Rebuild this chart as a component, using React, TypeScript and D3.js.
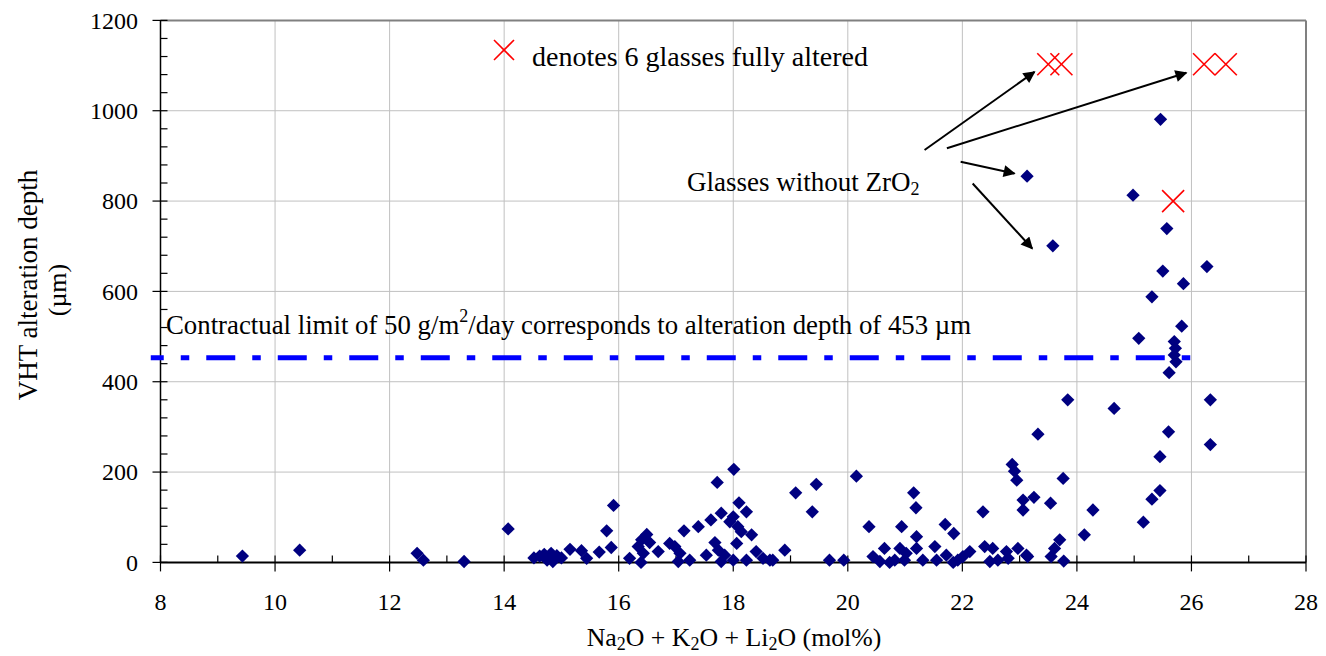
import React from "react";
import * as d3 from "d3";

// ---- data ----
const alkaliMol: number[] = [
  9.43, 10.43, 12.48, 12.59, 13.30, 14.07,
  14.52, 14.62, 14.70, 14.75, 14.82, 14.85, 14.92, 15.0,
  15.15, 15.35, 15.44, 15.66, 15.79, 15.87, 15.91,
  16.19, 16.39, 16.34, 16.40, 16.49, 16.54, 16.43, 16.69, 16.89, 16.98, 17.07, 17.04, 17.24, 17.14,
  17.39, 17.53, 17.61, 17.68, 17.72, 17.79, 17.74, 17.79, 17.85, 17.94, 18.0, 18.08, 18.01, 18.10,
  18.06, 18.23, 18.14, 18.32, 18.0, 18.23, 18.40, 18.52, 18.64, 18.69, 18.90,
  19.09, 19.38, 19.45, 19.68, 19.93, 20.15, 20.37, 20.44, 20.56, 20.64, 20.73, 20.82, 20.91, 20.94,
  20.99, 21.02, 21.15, 21.19, 21.20, 21.20, 21.31, 21.52, 21.55,
  21.70, 21.85, 21.72, 21.84, 21.92, 22.01, 22.13, 22.36, 22.39, 22.48, 22.53, 22.62, 22.77, 22.80,
  22.97, 23.12, 23.14, 22.87, 22.91, 22.95, 23.06, 23.06, 23.25, 23.32, 23.54, 23.55, 23.61, 23.70,
  23.76, 23.84, 23.77, 24.13, 24.28, 24.65, 25.16, 25.31, 25.45, 25.45, 25.60, 26.33, 26.33,
  23.13, 23.58, 25.46, 24.98, 25.57, 25.50, 26.27, 25.86, 25.31, 25.83, 25.08, 25.70, 25.72, 25.70,
  25.73, 25.61,
];
const depthUm: number[] = [
  14, 27, 20, 5, 2, 74,
  10, 14, 18, 5, 20, 2, 15, 10,
  29, 26, 9, 23, 70, 33, 126,
  9, 0, 35, 50, 62, 44, 20, 24, 42, 35, 20, 2, 5, 70,
  79, 16, 94, 44, 177, 109, 27, 2, 16, 90, 101, 79, 206, 132,
  42, 112, 68, 61, 5, 5, 24, 9, 5, 5, 27,
  154, 112, 173, 5, 5, 191, 79, 13, 2, 31, 0, 5, 31, 79,
  5, 20, 154, 121, 57, 31, 5, 35, 5,
  84, 64, 16, 0, 5, 13, 24, 112, 35, 2, 31, 5, 24, 9,
  31, 16, 13, 217, 202, 182, 138, 116, 144, 284, 131, 13, 31, 50,
  186, 360, 3, 61, 116, 341, 89, 140, 159, 234, 289, 360, 261,
  855, 701, 981, 813, 739, 645, 655, 617, 588, 523, 496, 489, 474, 459,
  444, 420,
];
const alteredX: number[] = [23.5, 23.73, 26.22, 26.6, 25.68];
const alteredY: number[] = [1103, 1103, 1103, 1103, 800];

const xTicks: number[] = [8, 10, 12, 14, 16, 18, 20, 22, 24, 26, 28];
const yTicks: number[] = [0, 200, 400, 600, 800, 1000, 1200];
const contractualLimit = 453;

// arrows (data coordinates): [x1, y1, x2, y2]
const arrows: number[][] = [
  [21.34, 913, 23.26, 1086],
  [21.73, 917, 25.91, 1084],
  [21.97, 887, 22.91, 861],
  [22.18, 839, 23.22, 695],
];

const W = 1326;
const H = 656;
const FONT = "'Liberation Serif', 'Times New Roman', serif";

export default function App() {
  const x = d3.scaleLinear().domain([8, 28]).range([160.5, 1306]);
  const y = d3.scaleLinear().domain([0, 1200]).range([562.4, 20.4]);
  const x0 = x(8);
  const y0 = y(0);

  const diamond = d3.symbol(d3.symbolSquare).size(88)() as string;

  const minorY = d3.range(0, 1201, 40).filter((v) => v % 200 !== 0);
  const minorX = d3.range(9, 28, 2);

  const xs = 11;

  return (
    <svg
      width={W}
      height={H}
      style={{ position: "absolute", left: 0, top: 0, background: "#fff" }}
      fontFamily={FONT}
    >
      <defs>
        <marker
          id="ah"
          viewBox="0 0 10 10"
          refX="9"
          refY="5"
          markerWidth="7"
          markerHeight="6"
          markerUnits="strokeWidth"
          orient="auto"
        >
          <path d="M0,0 L10,5 L0,10 z" fill="#000" />
        </marker>
      </defs>
      <rect x={0} y={0} width={W} height={H} fill="#fff" />

      {/* grid */}
      {xTicks.slice(1, -1).map((t) => (
        <line key={"gx" + t} x1={x(t)} x2={x(t)} y1={y(0)} y2={y(1200)} stroke="#c0c0c0" strokeWidth={1} />
      ))}
      {yTicks.slice(1, -1).map((t) => (
        <line key={"gy" + t} x1={x0} x2={x(28)} y1={y(t)} y2={y(t)} stroke="#c0c0c0" strokeWidth={1} />
      ))}
      {/* plot border top/right */}
      <line x1={x0} x2={x(28)} y1={y(1200)} y2={y(1200)} stroke="#808080" strokeWidth={2} />
      <line x1={x(28)} x2={x(28)} y1={y(1200)} y2={y(0)} stroke="#808080" strokeWidth={2} />

      {/* axes */}
      <line x1={x0} x2={x0} y1={y(1200)} y2={y0} stroke="#000" strokeWidth={1.5} />
      <line x1={x0} x2={x(28)} y1={y0} y2={y0} stroke="#000" strokeWidth={2} />
      {yTicks.map((t) => (
        <line key={"ty" + t} x1={x0 - 8} x2={x0 + 7} y1={y(t)} y2={y(t)} stroke="#000" strokeWidth={1.2} />
      ))}
      {minorY.map((t) => (
        <line key={"my" + t} x1={x0} x2={x0 + 7} y1={y(t)} y2={y(t)} stroke="#000" strokeWidth={1.2} />
      ))}
      {xTicks.map((t) => (
        <line key={"tx" + t} x1={x(t)} x2={x(t)} y1={y0 - 7} y2={y0 + 9} stroke="#000" strokeWidth={1.2} />
      ))}
      {minorX.map((t) => (
        <line key={"mx" + t} x1={x(t)} x2={x(t)} y1={y0 - 7} y2={y0} stroke="#000" strokeWidth={1.2} />
      ))}

      {/* tick labels */}
      {yTicks.map((t) => (
        <text key={"ly" + t} x={138} y={y(t)} dy="0.35em" textAnchor="end" fontSize={24} fill="#000">
          {t}
        </text>
      ))}
      {xTicks.map((t) => (
        <text key={"lx" + t} x={x(t)} y={610} textAnchor="middle" fontSize={24} fill="#000">
          {t}
        </text>
      ))}

      {/* axis titles */}
      <text transform="translate(37,285) rotate(-90)" textAnchor="middle" fontSize={27} fill="#000">
        VHT alteration depth
      </text>
      <text transform="translate(66,290) rotate(-90)" textAnchor="middle" fontSize={26} fill="#000">
        (µm)
      </text>
      <text x={734} y={646} textAnchor="middle" fontSize={25.8} fill="#000">
        Na<tspan fontSize={18} dy={4}>2</tspan>
        <tspan dy={-4}>O + K</tspan>
        <tspan fontSize={18} dy={4}>2</tspan>
        <tspan dy={-4}>O + Li</tspan>
        <tspan fontSize={18} dy={4}>2</tspan>
        <tspan dy={-4}>O (mol%)</tspan>
      </text>

      {/* contractual limit line */}
      <line
        x1={x(7.83)}
        x2={x(26.13)}
        y1={y(contractualLimit)}
        y2={y(contractualLimit)}
        stroke="#0000ff"
        strokeWidth={5}
        strokeDasharray="29 17 8.5 17"
        strokeDashoffset={16}
      />
      <text x={166} y={334} fontSize={26.8} fill="#000">
        Contractual limit of 50 g/m<tspan fontSize={18} dy={-12}>2</tspan>
        <tspan dy={12}>/day corresponds to alteration depth of 453 µm</tspan>
      </text>

      {/* data diamonds */}
      {alkaliMol.map((v, i) => (
        <path
          key={"p" + i}
          d={diamond}
          transform={`translate(${x(v)},${y(depthUm[i])}) rotate(45)`}
          fill="#000080"
        />
      ))}

      {/* fully altered markers */}
      {alteredX.map((v, i) => {
        const cx = x(v);
        const cy = y(alteredY[i]);
        return (
          <g key={"a" + i} stroke="#ff0000" strokeWidth={1.6}>
            <line x1={cx - xs} y1={cy - xs} x2={cx + xs} y2={cy + xs} />
            <line x1={cx - xs} y1={cy + xs} x2={cx + xs} y2={cy - xs} />
          </g>
        );
      })}

      {/* legend */}
      <g stroke="#ff0000" strokeWidth={1.6}>
        <line x1={494} y1={40} x2={514} y2={60} />
        <line x1={494} y1={60} x2={514} y2={40} />
      </g>
      <text x={532} y={66} fontSize={28} fill="#000">
        denotes 6 glasses fully altered
      </text>

      {/* annotation */}
      <text x={687} y={191} fontSize={27} fill="#000">
        Glasses without ZrO<tspan fontSize={18} dy={4}>2</tspan>
      </text>
      {arrows.map((a, i) => (
        <line
          key={"ar" + i}
          x1={x(a[0])}
          y1={y(a[1])}
          x2={x(a[2])}
          y2={y(a[3])}
          stroke="#000"
          strokeWidth={2}
          markerEnd="url(#ah)"
        />
      ))}
    </svg>
  );
}
